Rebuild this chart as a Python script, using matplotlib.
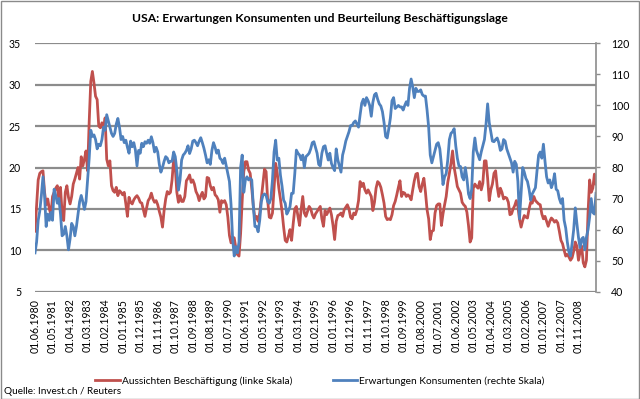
import numpy as np
import matplotlib
matplotlib.use('Agg')
import matplotlib.pyplot as plt
from matplotlib.patches import Rectangle

plt.rcParams['font.family'] = ['Lato', 'DejaVu Sans']

# monthly values, 06.1980 - 10.2009, one row per calendar year
aussichten = [
    12.3, 15.5, 18.5, 19.3, 19.5, 19.6, 17.0,
    15.5, 16.2, 15.0, 14.3, 16.5, 17.0, 17.5, 17.8, 16.0, 17.6, 14.5, 13.6,
    17.0, 17.8, 16.4, 15.6, 16.5, 18.0, 18.6, 19.3, 20.0, 18.6, 21.3, 20.2,
    21.0, 22.0, 19.6, 25.5, 30.4, 31.6, 30.2, 28.6, 28.2, 25.0, 24.8, 25.4,
    24.6, 26.0, 21.0, 20.2, 20.8, 17.8, 17.2, 17.0, 17.6, 16.6, 17.2, 17.0,
    16.7, 17.0, 15.6, 14.1, 16.4, 15.8, 15.6, 16.1, 16.4, 16.6, 16.3, 15.8,
    15.7, 14.9, 14.1, 15.1, 16.0, 16.3, 16.9, 16.2, 15.8, 16.0, 15.5, 14.7,
    14.0, 12.8, 14.8, 16.2, 17.1, 16.8, 17.0, 18.5, 21.0, 20.0, 17.0, 15.8,
    16.6, 15.9, 15.9, 16.5, 18.4, 18.7, 19.1, 18.2, 18.5, 18.0, 17.1, 16.7,
    16.0, 16.6, 17.0, 16.2, 16.5, 18.8, 18.7, 17.8, 17.3, 17.6, 16.7, 16.5,
    16.1, 14.6, 16.0, 15.8, 16.0, 15.5, 14.0, 11.8, 10.9, 11.6, 11.5, 10.3,
    9.5, 9.3, 12.0, 16.0, 19.5, 20.7, 20.7, 19.7, 19.3, 17.5, 15.3, 13.8,
    14.1, 13.5, 14.5, 16.3, 18.0, 19.8, 19.5, 16.0, 14.0, 13.9, 14.5, 17.5,
    20.5, 19.3, 17.5, 16.2, 14.7, 12.8, 11.2, 11.0, 11.7, 12.5, 11.2, 13.2,
    15.0, 15.3, 14.1, 13.0, 15.0, 16.5, 14.5, 14.1, 14.7, 15.3, 15.0, 14.3,
    13.9, 14.4, 14.7, 15.0, 15.3, 13.8, 12.9, 14.8, 14.3, 14.7, 15.1, 14.3,
    13.0, 11.3, 13.5, 14.2, 14.3, 14.5, 14.1, 14.9, 15.2, 15.5, 15.0, 14.0,
    13.8, 14.5, 14.3, 14.9, 16.0, 18.3, 17.7, 18.1, 17.3, 16.9, 17.3, 16.9,
    16.5, 14.8, 15.8, 17.5, 18.3, 18.1, 17.6, 16.7, 15.7, 14.1, 13.7, 13.8,
    13.7, 14.3, 15.4, 15.9, 16.7, 17.6, 18.4, 16.5, 17.0, 16.9, 16.5, 16.7,
    16.5, 16.1, 17.3, 18.4, 19.2, 19.3, 17.7, 17.1, 18.0, 18.7, 17.0, 14.9,
    13.8, 11.3, 12.3, 12.4, 14.5, 15.4, 15.6, 15.6, 13.0, 14.4, 15.5, 16.5,
    18.2, 19.3, 20.5, 22.0, 20.0, 18.9, 17.7, 17.3, 16.9, 15.8, 15.5, 15.3,
    14.6, 13.0, 11.0, 11.5, 17.5, 18.0, 17.7, 17.5, 18.3, 17.3, 18.1, 20.8,
    20.8, 18.7, 16.0, 17.3, 18.0, 19.3, 19.6, 17.7, 16.5, 17.5, 17.0, 16.2,
    16.4, 16.3, 15.8, 14.3, 14.4, 15.0, 15.4, 16.0, 15.3, 13.7, 12.8, 13.6,
    14.2, 14.0, 13.9, 15.0, 15.8, 15.7, 16.5, 16.0, 15.8, 15.6, 15.5, 14.4,
    13.8, 14.1, 13.5, 12.9, 13.5, 13.9, 13.7, 13.4, 13.6, 13.3, 12.3, 11.2,
    10.8, 10.0, 9.3, 9.5, 9.2, 8.8, 9.1, 9.9, 11.0, 10.5, 8.8, 9.8,
    10.5, 8.5, 8.0, 8.8, 14.5, 18.5, 17.0, 17.5, 19.2, 18.0,
]

erwartungen = [
    52.5, 56, 63, 66, 71, 77, 71,
    61, 65, 63, 65.5, 63, 73, 71, 68.5, 70, 65, 58, 58.5,
    61, 58, 53.5, 57, 62, 61, 58, 61, 65, 69, 71, 69,
    66.5, 69, 76, 83, 92, 90, 90.5, 89, 86, 87.5, 87, 89,
    93, 92, 97, 95, 93, 91, 90, 91, 94, 95.8, 93, 89,
    90, 88, 88.8, 86.5, 84.6, 88.5, 86.7, 88, 85.6, 80.5, 85.5, 84.6,
    87.8, 86.7, 88.3, 87.8, 88.8, 87.8, 89.9, 88, 85, 86.5, 85, 81,
    78.5, 80, 82, 83.5, 83, 81.5, 82, 82, 85, 83.5, 79, 72.7,
    76, 82.4, 84, 84.6, 85.5, 87, 84.5, 86, 88.5, 88.8, 88, 87,
    88.5, 89.6, 88, 86.2, 84, 81.5, 82.5, 81, 85.5, 88, 86.5, 84.6,
    85.6, 83, 82.5, 81.3, 83, 80.5, 78, 75.5, 68, 57, 51.5, 54.5,
    52.5, 56, 80, 84, 72, 76, 77, 76, 76.5, 76, 67.4, 61,
    61, 59.3, 63, 69, 71, 71.5, 71, 69, 68.5, 70, 76, 85,
    88.8, 82.4, 83, 77.5, 74, 69.5, 68.5, 65, 66, 67.4, 71.7, 71.7,
    78, 85.6, 84.6, 84, 82.5, 84, 80, 83.5, 84, 84.6, 86, 88,
    88.3, 86.5, 84.6, 81, 80.5, 84.6, 86.7, 87, 84.6, 82.4, 84.6, 81.3,
    80, 79, 86, 82.5, 80.5, 78.5, 84, 86, 88.5, 90, 91.5, 93.5,
    93.5, 94.5, 95, 94, 93, 97, 100.7, 102, 100, 102.5, 101.5, 100,
    96.5, 101, 103.4, 103.9, 102, 100.5, 99.8, 98, 94.5, 90, 89.5, 92.5,
    96, 101.5, 102.5, 99, 99.5, 100, 99.5, 99.5, 98.5, 100, 101.2, 100,
    105.5, 108.5, 106, 102.5, 105.5, 104.5, 104.5, 105, 103.5, 103, 103, 98.5,
    93, 84, 81.5, 83.5, 85.5, 87.5, 88, 86, 81, 74.5, 77, 78,
    82.5, 89, 91, 91.5, 92.5, 87, 83, 80.5, 80.3, 77, 76, 80,
    76.5, 71.5, 70, 73, 85, 89.5, 85.5, 84, 82.5, 85, 87, 89,
    94, 100.5, 94.5, 91.5, 88.5, 88.3, 89, 89.5, 88, 85.5, 86, 89,
    88.5, 86, 84.5, 83, 81.5, 78.5, 82, 81, 75.5, 63.5, 72, 80,
    78.5, 76.5, 75.5, 73, 69.5, 71.5, 72.5, 73.5, 79, 84, 85, 83,
    87.5, 82, 77, 75, 76, 73.5, 75, 78, 73, 72.5, 70, 68.5,
    70, 63, 60.5, 56, 52.8, 51.5, 55.5, 60, 67, 62, 57.5, 54.2,
    57, 57.5, 53.5, 57.5, 60, 64, 70, 65.5, 65, 71.7,
]

tick_labels = [
    '01.06.1980', '01.05.1981', '01.04.1982', '01.03.1983', '01.02.1984',
    '01.01.1985', '01.12.1985', '01.11.1986', '01.10.1987', '01.09.1988',
    '01.08.1989', '01.07.1990', '01.06.1991', '01.05.1992', '01.04.1993',
    '01.03.1994', '01.02.1995', '01.01.1996', '01.12.1996', '01.11.1997',
    '01.10.1998', '01.09.1999', '01.08.2000', '01.07.2001', '01.06.2002',
    '01.05.2003', '01.04.2004', '01.03.2005', '01.02.2006', '01.01.2007',
    '01.12.2007', '01.11.2008',
]

red = '#C0504D'
blue = '#4F81BD'
grid_gray = '#8C8C8C'

fig = plt.figure(figsize=(6.4, 3.99), dpi=100)
fig.patches.append(Rectangle((0.001, 0.001), 0.997, 0.997, transform=fig.transFigure,
                             fill=False, edgecolor='#8A8A8A', linewidth=1))

ax = fig.add_axes([35 / 640, 1 - 291.7 / 399, (596 - 35) / 640, (291.7 - 43.3) / 399])
x = np.arange(len(aussichten))
ax.plot(x, aussichten, color=red, lw=2.0, label='Aussichten Beschäftigung (linke Skala)')
ax.set_xlim(0, len(x) - 1)
ax.set_ylim(5, 35)
ax.set_yticks(range(5, 36, 5))
ax.yaxis.grid(True, color=grid_gray, lw=1.6)
ax.set_axisbelow(True)
ax.set_xticks(x[:len(tick_labels) * 11:11])
ax.set_xticklabels(tick_labels, rotation=90, fontsize=7.6)
ax.tick_params(axis='x', length=0, pad=5)
ax.tick_params(axis='y', length=0, pad=10, labelsize=7.6)
for s in ['left', 'top', 'right', 'bottom']:
    ax.spines[s].set_visible(False)

ax2 = ax.twinx()
ax2.plot(x, erwartungen, color=blue, lw=2.0, label='Erwartungen Konsumenten (rechte Skala)')
ax2.set_ylim(40, 120)
ax2.set_yticks(range(40, 121, 10))
ax2.tick_params(axis='y', length=3, width=1, color=grid_gray, pad=8, labelsize=7.6)
for s in ['left', 'top', 'bottom']:
    ax2.spines[s].set_visible(False)
ax2.spines['right'].set_color(grid_gray)
ax2.spines['right'].set_linewidth(1.2)

fig.text(0.5, 1 - 18 / 399, 'USA: Erwartungen Konsumenten und Beurteilung Beschäftigungslage',
         ha='center', va='center', fontsize=8.7, fontweight='bold')

handles = ax.get_lines() + ax2.get_lines()
fig.legend(handles, [h.get_label() for h in handles], loc='center',
           bbox_to_anchor=(0.5, 1 - 381 / 399), ncol=2, frameon=False,
           fontsize=7.3, handlelength=2.4, handletextpad=0.2, columnspacing=4.0)

fig.text(4 / 640, 1 - 392 / 399, 'Quelle: Invest.ch / Reuters', ha='left', va='center', fontsize=7.2)

fig.savefig('out.png', dpi=100)
